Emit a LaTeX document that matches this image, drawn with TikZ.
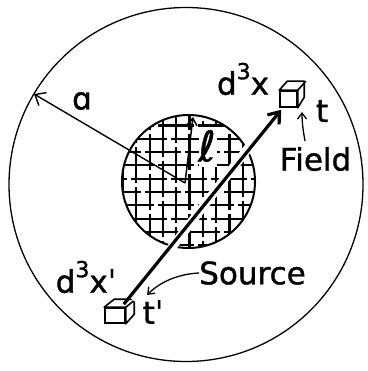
\documentclass[tikz,border=0pt]{standalone}
\usepackage{fontspec}
\setmainfont{DejaVu Sans}
\newfontfamily\labfont[FakeBold=1.2]{DejaVu Sans}
\usetikzlibrary{arrows.meta}
\begin{document}
\begin{tikzpicture}[x=1pt,y=-1pt,
  lbl/.style={inner sep=0pt, font=\labfont\fontsize{31}{32}\selectfont},
  cubeface/.style={draw, line width=1.6pt, fill=white, inner sep=0pt},
  cubeedge/.style={line width=1.6pt, line join=round},
  gridline/.style={line width=2.2pt},
  barb/.style={-{Straight Barb[length=9pt,width=15pt]}}]
\useasboundingbox (0,0) rectangle (367,371);
% outer circle
\draw[line width=1.3pt] (186,184.5) circle[radius=177pt];
\coordinate (O) at (185,183);
\coordinate (I) at (188.5,181.5);
% hatched inner circle
\begin{scope}
  \clip (I) circle[radius=66.5pt];
  \foreach \i in {-2,...,10} {
    \draw[gridline, dash pattern=on 35.9pt off 4pt, dash phase={(19.05+13.3*mod(\i+9,3))*1pt}]
      ({123+13.3*\i},100) -- ({123+13.3*\i},265);
  }
  \foreach \i in {-7,...,6} {
    \draw[gridline, dash pattern=on 35.9pt off 4pt, dash phase={(5.25+13.3*mod(2*\i+15,3))*1pt}]
      (110,{192+13.3*\i}) -- (270,{192+13.3*\i});
  }
\end{scope}
\draw[line width=2pt] (I) circle[radius=66.5pt];
% white halo behind the l label
\fill[white] (199,127) rectangle (217,167);
% cubes
\node[cubeface, minimum width=17pt, minimum height=16pt] (fcube) at (288.5,99) {};
\draw[cubeedge, fill=white] (fcube.north west) -- ++(8,-9) -- ++(17,0) -- ++(0,16) -- (fcube.south east) -- (fcube.north east) -- cycle;
\draw[cubeedge] (fcube.north east) -- ++(8,-9);
\node[cubeface, minimum width=20pt, minimum height=15pt] (scube) at (115,315.5) {};
\draw[cubeedge, fill=white] (scube.north west) -- ++(10,-8) -- ++(20,0) -- ++(0,15) -- (scube.south east) -- (scube.north east) -- cycle;
\draw[cubeedge] (scube.north east) -- ++(10,-8);
% arrows from centre
\draw[line width=1.4pt, barb] (O) -- (34,94);
\draw[line width=1.5pt, -{Straight Barb[length=7pt,width=10pt]}] (O) -- (193,117);
% thick arrow
\draw[white, line width=9pt, shorten >=10pt, shorten <=10pt] (scube.north east) -- (fcube.south west);
\draw[line width=3.2pt, -{Straight Barb[length=10pt,width=15pt]}] ([shift={(-2,-3)}]scube.north east) -- ([shift={(2,2)}]fcube.south west);
% labels
\node[lbl] (la) at (82,101) {ɑ};
\node[lbl, font=\labfont\fontsize{42}{42}\selectfont] (ll) at (207,146) {ℓ};
\node[lbl] (dx) at (243,79) {d\raisebox{0.5em}{\fontsize{22}{22}\selectfont 3}x};
\node[lbl] (t) at (322,111) {t};
\node[lbl] (field) at (315.5,159) {Field};
\node[lbl] (source) at (252.5,273) {Source};
\node[lbl] (dxp) at (86,277) {d\raisebox{0.5em}{\fontsize{22}{22}\selectfont 3}xˈ};
\node[lbl] (tp) at (153,312) {tˈ};
% pointer arrows
\coordinate (ftip) at (302,112);
\coordinate (stip) at (147,295);
\draw[line width=1.3pt, -{Straight Barb[length=6pt,width=9pt]}] (305,141) .. controls (303,130) and (302,122) .. (ftip);
\draw[line width=1.3pt, -{Straight Barb[length=6pt,width=9pt]}] (source.west) .. controls (178,274) and (160,282) .. (stip);
\end{tikzpicture}
\end{document}
